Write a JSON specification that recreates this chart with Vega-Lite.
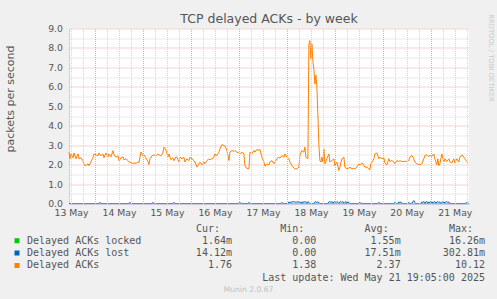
{
"$schema": "https://vega.github.io/schema/vega-lite/v6.json",
"background": "#f0f0f0",
"padding": {"left": 4, "top": 12.5, "right": 5, "bottom": 7},
"autosize": {"type": "pad"},
"bounds": "flush",
"spacing": 31,
"title": {"text": "Munin 2.0.67", "orient": "bottom", "anchor": "middle", "font": "DejaVu Sans", "fontSize": 7.6, "fontWeight": "normal", "color": "#c0c0c0", "offset": 3},
"config": {"view": {"stroke": null}},
"datasets": {
"acks": [
{"t":"2025-05-13T11:00","v":2.64},{"t":"2025-05-13T11:30","v":2.30},{"t":"2025-05-13T12:00","v":2.55},{"t":"2025-05-13T13:00","v":2.35},{"t":"2025-05-13T13:30","v":2.6},{"t":"2025-05-13T14:30","v":2.3},{"t":"2025-05-13T15:30","v":2.55},{"t":"2025-05-13T16:00","v":2.3},{"t":"2025-05-13T17:00","v":2.35},{"t":"2025-05-13T18:00","v":2.2},{"t":"2025-05-13T18:30","v":2.0},{"t":"2025-05-13T19:30","v":1.95},{"t":"2025-05-13T20:30","v":2.05},{"t":"2025-05-13T21:00","v":1.95},{"t":"2025-05-13T22:00","v":2.15},{"t":"2025-05-13T23:00","v":2.35},{"t":"2025-05-13T23:30","v":2.55},
{"t":"2025-05-14T00:30","v":2.5},{"t":"2025-05-14T01:30","v":2.45},{"t":"2025-05-14T02:00","v":2.6},{"t":"2025-05-14T03:00","v":2.45},{"t":"2025-05-14T04:00","v":2.55},{"t":"2025-05-14T04:30","v":2.35},{"t":"2025-05-14T05:30","v":2.6},{"t":"2025-05-14T06:30","v":2.4},{"t":"2025-05-14T07:00","v":2.55},{"t":"2025-05-14T08:00","v":2.4},{"t":"2025-05-14T09:00","v":2.72},{"t":"2025-05-14T09:30","v":2.5},{"t":"2025-05-14T10:30","v":2.38},{"t":"2025-05-14T11:30","v":2.45},{"t":"2025-05-14T12:00","v":2.2},{"t":"2025-05-14T13:00","v":2.35},{"t":"2025-05-14T14:00","v":2.4},{"t":"2025-05-14T14:30","v":2.25},{"t":"2025-05-14T15:30","v":2.3},{"t":"2025-05-14T16:30","v":2.2},{"t":"2025-05-14T17:00","v":2.15},{"t":"2025-05-14T18:00","v":2.1},{"t":"2025-05-14T19:00","v":2.05},{"t":"2025-05-14T19:30","v":2.1},{"t":"2025-05-14T20:30","v":2.05},{"t":"2025-05-14T21:30","v":2.15},{"t":"2025-05-14T22:00","v":2.1},{"t":"2025-05-14T23:00","v":2.65},
{"t":"2025-05-15T00:00","v":2.45},{"t":"2025-05-15T00:30","v":2.5},{"t":"2025-05-15T01:30","v":2.35},{"t":"2025-05-15T02:30","v":2.15},{"t":"2025-05-15T03:00","v":2.0},{"t":"2025-05-15T03:30","v":2.3},{"t":"2025-05-15T04:30","v":2.45},{"t":"2025-05-15T05:30","v":2.5},{"t":"2025-05-15T06:30","v":2.45},{"t":"2025-05-15T07:30","v":2.55},{"t":"2025-05-15T08:00","v":2.5},{"t":"2025-05-15T09:00","v":2.45},{"t":"2025-05-15T10:00","v":2.6},{"t":"2025-05-15T10:30","v":2.9},{"t":"2025-05-15T11:30","v":2.75},{"t":"2025-05-15T12:30","v":2.4},{"t":"2025-05-15T13:00","v":2.55},{"t":"2025-05-15T14:00","v":2.25},{"t":"2025-05-15T15:00","v":2.35},{"t":"2025-05-15T15:30","v":2.2},{"t":"2025-05-15T16:30","v":2.4},{"t":"2025-05-15T17:00","v":2.38},{"t":"2025-05-15T18:00","v":2.13},{"t":"2025-05-15T18:30","v":2.38},{"t":"2025-05-15T19:30","v":2.30},{"t":"2025-05-15T20:30","v":2.38},{"t":"2025-05-15T21:00","v":2.13},{"t":"2025-05-15T22:00","v":2.30},{"t":"2025-05-15T23:00","v":2.21},{"t":"2025-05-15T23:30","v":2.38},
{"t":"2025-05-16T00:30","v":2.30},{"t":"2025-05-16T01:30","v":2.21},{"t":"2025-05-16T02:00","v":2.13},{"t":"2025-05-16T03:00","v":1.87},{"t":"2025-05-16T04:00","v":2.04},{"t":"2025-05-16T04:30","v":2.13},{"t":"2025-05-16T05:30","v":1.99},{"t":"2025-05-16T06:30","v":2.13},{"t":"2025-05-16T07:00","v":2.04},{"t":"2025-05-16T08:00","v":2.21},{"t":"2025-05-16T09:00","v":2.30},{"t":"2025-05-16T09:30","v":2.25},{"t":"2025-05-16T10:30","v":2.30},{"t":"2025-05-16T11:30","v":2.38},{"t":"2025-05-16T12:00","v":2.55},{"t":"2025-05-16T13:00","v":2.47},{"t":"2025-05-16T14:00","v":2.64},{"t":"2025-05-16T14:30","v":2.81},{"t":"2025-05-16T15:30","v":3.03},{"t":"2025-05-16T16:30","v":2.98},{"t":"2025-05-16T17:00","v":2.95},{"t":"2025-05-16T18:00","v":2.73},{"t":"2025-05-16T19:00","v":2.21},{"t":"2025-05-16T19:30","v":2.64},{"t":"2025-05-16T20:30","v":2.73},{"t":"2025-05-16T21:30","v":2.67},{"t":"2025-05-16T22:00","v":2.73},{"t":"2025-05-16T23:00","v":2.64},
{"t":"2025-05-17T00:00","v":2.60},{"t":"2025-05-17T00:30","v":2.55},{"t":"2025-05-17T01:30","v":2.64},{"t":"2025-05-17T02:30","v":2.55},{"t":"2025-05-17T03:00","v":1.95},{"t":"2025-05-17T04:00","v":1.80},{"t":"2025-05-17T05:00","v":1.78},{"t":"2025-05-17T05:30","v":2.64},{"t":"2025-05-17T06:30","v":2.55},{"t":"2025-05-17T07:30","v":2.73},{"t":"2025-05-17T08:00","v":2.64},{"t":"2025-05-17T09:00","v":2.78},{"t":"2025-05-17T10:00","v":2.73},{"t":"2025-05-17T10:30","v":2.78},{"t":"2025-05-17T11:30","v":2.38},{"t":"2025-05-17T12:30","v":2.13},{"t":"2025-05-17T13:00","v":1.92},{"t":"2025-05-17T14:00","v":2.04},{"t":"2025-05-17T15:00","v":1.99},{"t":"2025-05-17T15:30","v":2.13},{"t":"2025-05-17T16:30","v":2.21},{"t":"2025-05-17T17:30","v":2.04},{"t":"2025-05-17T18:00","v":2.13},{"t":"2025-05-17T19:00","v":2.30},{"t":"2025-05-17T20:00","v":2.38},{"t":"2025-05-17T20:30","v":2.33},{"t":"2025-05-17T21:30","v":2.47},{"t":"2025-05-17T22:30","v":2.38},{"t":"2025-05-17T23:00","v":2.55},
{"t":"2025-05-18T00:00","v":2.38},{"t":"2025-05-18T01:00","v":2.30},{"t":"2025-05-18T01:30","v":2.13},{"t":"2025-05-18T02:30","v":1.95},{"t":"2025-05-18T03:30","v":1.82},{"t":"2025-05-18T04:00","v":1.78},{"t":"2025-05-18T05:00","v":1.78},{"t":"2025-05-18T06:00","v":1.87},{"t":"2025-05-18T06:30","v":2.47},{"t":"2025-05-18T07:30","v":2.73},{"t":"2025-05-18T08:30","v":2.64},{"t":"2025-05-18T09:00","v":2.90},{"t":"2025-05-18T09:30","v":2.38},{"t":"2025-05-18T10:30","v":2.30},{"t":"2025-05-18T11:00","v":8.2},{"t":"2025-05-18T11:30","v":8.38},{"t":"2025-05-18T12:00","v":7.45},{"t":"2025-05-18T12:30","v":8.2},{"t":"2025-05-18T13:00","v":7.3},{"t":"2025-05-18T13:30","v":6.9},{"t":"2025-05-18T14:00","v":6.15},{"t":"2025-05-18T14:30","v":6.6},{"t":"2025-05-18T15:00","v":6.0},{"t":"2025-05-18T15:30","v":4.5},{"t":"2025-05-18T16:00","v":3.0},{"t":"2025-05-18T16:30","v":2.21},{"t":"2025-05-18T17:00","v":2.13},{"t":"2025-05-18T17:30","v":2.38},{"t":"2025-05-18T18:00","v":2.13},{"t":"2025-05-18T18:30","v":2.81},{"t":"2025-05-18T19:00","v":2.04},{"t":"2025-05-18T20:00","v":2.30},{"t":"2025-05-18T21:00","v":2.55},{"t":"2025-05-18T21:30","v":2.13},{"t":"2025-05-18T22:30","v":2.21},{"t":"2025-05-18T23:30","v":2.30},
{"t":"2025-05-19T00:00","v":1.95},{"t":"2025-05-19T01:00","v":2.13},{"t":"2025-05-19T02:00","v":1.70},{"t":"2025-05-19T02:30","v":1.87},{"t":"2025-05-19T03:30","v":2.30},{"t":"2025-05-19T04:30","v":2.38},{"t":"2025-05-19T05:00","v":1.87},{"t":"2025-05-19T06:00","v":1.78},{"t":"2025-05-19T07:00","v":1.82},{"t":"2025-05-19T07:30","v":1.87},{"t":"2025-05-19T08:30","v":1.78},{"t":"2025-05-19T09:30","v":1.82},{"t":"2025-05-19T10:00","v":1.78},{"t":"2025-05-19T11:00","v":1.87},{"t":"2025-05-19T12:00","v":2.04},{"t":"2025-05-19T12:30","v":1.99},{"t":"2025-05-19T13:30","v":2.09},{"t":"2025-05-19T14:30","v":1.95},{"t":"2025-05-19T15:00","v":1.87},{"t":"2025-05-19T16:00","v":1.87},{"t":"2025-05-19T17:00","v":1.78},{"t":"2025-05-19T17:30","v":1.73},{"t":"2025-05-19T18:00","v":2.04},{"t":"2025-05-19T19:00","v":2.21},{"t":"2025-05-19T19:30","v":2.30},{"t":"2025-05-19T20:00","v":2.55},{"t":"2025-05-19T21:00","v":2.60},{"t":"2025-05-19T22:00","v":2.30},{"t":"2025-05-19T22:30","v":2.38},{"t":"2025-05-19T23:30","v":2.30},
{"t":"2025-05-20T00:30","v":2.35},{"t":"2025-05-20T01:00","v":2.09},{"t":"2025-05-20T02:00","v":1.99},{"t":"2025-05-20T03:00","v":2.30},{"t":"2025-05-20T03:30","v":2.16},{"t":"2025-05-20T04:30","v":2.21},{"t":"2025-05-20T05:30","v":2.13},{"t":"2025-05-20T06:00","v":2.04},{"t":"2025-05-20T07:00","v":2.21},{"t":"2025-05-20T08:00","v":2.16},{"t":"2025-05-20T08:30","v":2.21},{"t":"2025-05-20T09:30","v":2.16},{"t":"2025-05-20T10:30","v":2.16},{"t":"2025-05-20T11:00","v":2.18},{"t":"2025-05-20T12:00","v":2.16},{"t":"2025-05-20T13:00","v":2.21},{"t":"2025-05-20T13:30","v":2.38},{"t":"2025-05-20T14:30","v":2.47},{"t":"2025-05-20T15:30","v":2.30},{"t":"2025-05-20T16:00","v":2.13},{"t":"2025-05-20T17:00","v":2.04},{"t":"2025-05-20T18:00","v":2.00},{"t":"2025-05-20T18:30","v":1.99},{"t":"2025-05-20T19:30","v":2.04},{"t":"2025-05-20T20:30","v":2.30},{"t":"2025-05-20T21:00","v":2.47},{"t":"2025-05-20T22:00","v":2.50},{"t":"2025-05-20T23:00","v":2.42},{"t":"2025-05-20T23:30","v":2.47},
{"t":"2025-05-21T00:30","v":2.43},{"t":"2025-05-21T01:30","v":2.55},{"t":"2025-05-21T02:00","v":2.30},{"t":"2025-05-21T03:00","v":1.99},{"t":"2025-05-21T03:30","v":2.30},{"t":"2025-05-21T04:00","v":1.95},{"t":"2025-05-21T04:30","v":2.04},{"t":"2025-05-21T05:30","v":2.55},{"t":"2025-05-21T06:30","v":2.13},{"t":"2025-05-21T07:00","v":2.30},{"t":"2025-05-21T08:00","v":2.16},{"t":"2025-05-21T09:00","v":2.30},{"t":"2025-05-21T09:30","v":2.13},{"t":"2025-05-21T10:30","v":2.09},{"t":"2025-05-21T11:30","v":2.30},{"t":"2025-05-21T12:00","v":2.09},{"t":"2025-05-21T13:00","v":2.30},{"t":"2025-05-21T14:00","v":2.13},{"t":"2025-05-21T14:30","v":2.38},{"t":"2025-05-21T15:30","v":2.50},{"t":"2025-05-21T16:30","v":2.38},{"t":"2025-05-21T17:00","v":2.30},{"t":"2025-05-21T18:00","v":2.16},{"t":"2025-05-21T18:30","v":2.10}
],
"lost": [
{"t":"2025-05-13T11:00","v":0},{"t":"2025-05-14T02:00","v":0},{"t":"2025-05-14T02:30","v":0.06},{"t":"2025-05-14T03:00","v":0},{"t":"2025-05-14T17:00","v":0},{"t":"2025-05-14T17:30","v":0.06},{"t":"2025-05-14T18:00","v":0},{"t":"2025-05-15T04:30","v":0},{"t":"2025-05-15T05:00","v":0.06},{"t":"2025-05-15T05:30","v":0},{"t":"2025-05-15T15:00","v":0},{"t":"2025-05-15T15:30","v":0.06},{"t":"2025-05-15T16:00","v":0},{"t":"2025-05-17T00:00","v":0},{"t":"2025-05-17T00:30","v":0.06},{"t":"2025-05-17T01:00","v":0},{"t":"2025-05-17T04:30","v":0},{"t":"2025-05-17T05:00","v":0.06},{"t":"2025-05-17T05:30","v":0},{"t":"2025-05-17T21:00","v":0},{"t":"2025-05-17T21:30","v":0.06},{"t":"2025-05-17T22:00","v":0},
{"t":"2025-05-18T00:30","v":0},{"t":"2025-05-18T01:00","v":0.08},{"t":"2025-05-18T01:30","v":0.03},{"t":"2025-05-18T02:00","v":0.1},{"t":"2025-05-18T02:30","v":0.05},{"t":"2025-05-18T03:00","v":0.1},{"t":"2025-05-18T03:30","v":0.08},{"t":"2025-05-18T04:00","v":0.1},{"t":"2025-05-18T04:30","v":0.04},{"t":"2025-05-18T05:00","v":0.1},{"t":"2025-05-18T05:30","v":0.06},{"t":"2025-05-18T06:00","v":0.1},{"t":"2025-05-18T06:30","v":0.03},{"t":"2025-05-18T07:00","v":0.08},{"t":"2025-05-18T07:30","v":0},{"t":"2025-05-18T08:00","v":0.1},{"t":"2025-05-18T08:30","v":0.05},{"t":"2025-05-18T09:00","v":0.1},{"t":"2025-05-18T09:30","v":0.08},{"t":"2025-05-18T10:00","v":0},{"t":"2025-05-18T10:30","v":0.1},{"t":"2025-05-18T11:00","v":0.06},{"t":"2025-05-18T11:30","v":0},
{"t":"2025-05-18T13:30","v":0},{"t":"2025-05-18T14:00","v":0.08},{"t":"2025-05-18T14:30","v":0.1},{"t":"2025-05-18T15:00","v":0.04},{"t":"2025-05-18T15:30","v":0.08},{"t":"2025-05-18T16:00","v":0.06},{"t":"2025-05-18T16:30","v":0},
{"t":"2025-05-18T20:30","v":0},{"t":"2025-05-18T21:00","v":0.08},{"t":"2025-05-18T21:30","v":0.1},{"t":"2025-05-18T22:00","v":0.05},{"t":"2025-05-18T22:30","v":0.1},{"t":"2025-05-18T23:00","v":0},{"t":"2025-05-18T23:30","v":0.08},{"t":"2025-05-19T00:00","v":0.1},{"t":"2025-05-19T00:30","v":0.04},{"t":"2025-05-19T01:00","v":0.1},{"t":"2025-05-19T01:30","v":0.06},{"t":"2025-05-19T02:00","v":0},{"t":"2025-05-19T02:30","v":0.08},{"t":"2025-05-19T03:00","v":0.1},{"t":"2025-05-19T03:30","v":0.05},{"t":"2025-05-19T04:00","v":0.1},{"t":"2025-05-19T04:30","v":0},{"t":"2025-05-19T05:00","v":0.06},{"t":"2025-05-19T05:30","v":0.1},{"t":"2025-05-19T06:00","v":0},{"t":"2025-05-19T06:30","v":0.08},{"t":"2025-05-19T07:00","v":0.06},{"t":"2025-05-19T07:30","v":0},
{"t":"2025-05-19T12:00","v":0},{"t":"2025-05-19T12:30","v":0.06},{"t":"2025-05-19T13:00","v":0},{"t":"2025-05-19T21:30","v":0},{"t":"2025-05-19T22:00","v":0.06},{"t":"2025-05-19T22:30","v":0},
{"t":"2025-05-20T05:30","v":0},{"t":"2025-05-20T06:00","v":0.06},{"t":"2025-05-20T06:30","v":0},{"t":"2025-05-20T07:30","v":0},{"t":"2025-05-20T08:00","v":0.08},{"t":"2025-05-20T08:30","v":0.05},{"t":"2025-05-20T09:00","v":0.08},{"t":"2025-05-20T09:30","v":0},
{"t":"2025-05-20T12:30","v":0},{"t":"2025-05-20T13:00","v":0.06},{"t":"2025-05-20T13:30","v":0},{"t":"2025-05-20T14:30","v":0},{"t":"2025-05-20T15:00","v":0.08},{"t":"2025-05-20T15:30","v":0.15},{"t":"2025-05-20T16:00","v":0.05},{"t":"2025-05-20T16:30","v":0},
{"t":"2025-05-20T19:00","v":0},{"t":"2025-05-20T19:30","v":0.08},{"t":"2025-05-20T20:00","v":0.05},{"t":"2025-05-20T20:30","v":0.1},{"t":"2025-05-20T21:00","v":0},{"t":"2025-05-20T21:30","v":0.08},{"t":"2025-05-20T22:00","v":0.1},{"t":"2025-05-20T22:30","v":0},{"t":"2025-05-20T23:00","v":0.08},{"t":"2025-05-20T23:30","v":0.05},{"t":"2025-05-21T00:00","v":0.1},{"t":"2025-05-21T00:30","v":0},{"t":"2025-05-21T01:00","v":0.08},{"t":"2025-05-21T01:30","v":0.06},{"t":"2025-05-21T02:00","v":0.1},{"t":"2025-05-21T02:30","v":0},{"t":"2025-05-21T03:00","v":0.08},{"t":"2025-05-21T03:30","v":0.1},{"t":"2025-05-21T04:00","v":0.05},{"t":"2025-05-21T04:30","v":0.08},{"t":"2025-05-21T05:00","v":0},{"t":"2025-05-21T05:30","v":0.06},{"t":"2025-05-21T06:00","v":0.1},{"t":"2025-05-21T06:30","v":0},{"t":"2025-05-21T07:00","v":0.08},{"t":"2025-05-21T07:30","v":0.06},{"t":"2025-05-21T08:00","v":0.1},{"t":"2025-05-21T08:30","v":0.05},{"t":"2025-05-21T09:00","v":0.08},{"t":"2025-05-21T09:30","v":0},
{"t":"2025-05-21T17:30","v":0},{"t":"2025-05-21T18:00","v":0.06},{"t":"2025-05-21T18:30","v":0}
],
"locked": [
{"t":"2025-05-13T11:05","v":0},{"t":"2025-05-16T12:00","v":0.001},{"t":"2025-05-18T12:00","v":0.002},{"t":"2025-05-21T19:05","v":0.0016}
],
"stats": [
{"series":"Delayed ACKs locked","stat":"Cur:","val":"1.64m"},{"series":"Delayed ACKs locked","stat":"Min:","val":"0.00\u00a0"},{"series":"Delayed ACKs locked","stat":"Avg:","val":"1.55m"},{"series":"Delayed ACKs locked","stat":"Max:","val":"16.26m"},
{"series":"Delayed ACKs lost","stat":"Cur:","val":"14.12m"},{"series":"Delayed ACKs lost","stat":"Min:","val":"0.00\u00a0"},{"series":"Delayed ACKs lost","stat":"Avg:","val":"17.51m"},{"series":"Delayed ACKs lost","stat":"Max:","val":"302.81m"},
{"series":"Delayed ACKs","stat":"Cur:","val":"1.76\u00a0"},{"series":"Delayed ACKs","stat":"Min:","val":"1.38\u00a0"},{"series":"Delayed ACKs","stat":"Avg:","val":"2.37\u00a0"},{"series":"Delayed ACKs","stat":"Max:","val":"10.12\u00a0"}
]
},
"vconcat": [
{
"width": 400, "height": 175,
"view": {"fill": "#ffffff", "stroke": null},
"title": {"text": "TCP delayed ACKs - by week", "font": "DejaVu Sans", "fontSize": 12.5, "fontWeight": "normal", "color": "#555555", "offset": -12, "anchor": "middle"},
"encoding": {
"x": {"field": "t", "type": "temporal", "scale": {"nice": false},
"axis": {"title": null, "tickCount": 34, "zindex": 1,
"labelExpr": "timeFormat(datum.value, '%H') == '12' ? timeFormat(datum.value, '%d %b') : ''",
"labelFont": "DejaVu Sans", "labelFontSize": 9.3, "labelColor": "#555555", "labelPadding": 4.5,
"labelOverlap": false, "labelFlush": false, "labelBound": false,
"ticks": false, "tickSize": 0, "domainColor": "#a9b6e6", "domainWidth": 1,
"grid": true, "gridColor": {"condition": {"test": "timeFormat(datum.value, '%H') == '00'", "value": "#eba7a7"}, "value": "#d5d5d5"}, "gridDash": [1, 1], "gridWidth": 1}}
},
"layer": [
{
"encoding": {"y": {"field": "v", "type": "quantitative", "scale": {"domain": [0, 9], "nice": false, "zero": true},
"axis": {"title": "packets per second", "values": [0, 0.5, 1, 1.5, 2, 2.5, 3, 3.5, 4, 4.5, 5, 5.5, 6, 6.5, 7, 7.5, 8, 8.5, 9],
"labelExpr": "datum.value % 1 == 0 ? format(datum.value, '.1f') : ''",
"labelFont": "DejaVu Sans", "labelFontSize": 9.3, "labelColor": "#555555", "labelPadding": 6.5,
"ticks": false, "tickSize": 0, "domainColor": "#c8d0f0",
"grid": true, "gridColor": {"condition": {"test": "datum.value % 1 == 0", "value": "#eba7a7"}, "value": "#d5d5d5"}, "gridDash": [1, 1], "gridWidth": 1,
"titleFont": "DejaVu Sans", "titleFontSize": 11, "titleFontWeight": "normal", "titleColor": "#555555",
"titleX": -59, "titleY": 70, "titleBaseline": "middle", "titleAlign": "center"}}},
"layer": [
{"data": {"name": "locked"}, "mark": {"type": "line", "strokeWidth": 0.5, "interpolate": "linear"},
"encoding": {"color": {"datum": "Delayed ACKs locked", "type": "nominal",
"scale": {"domain": ["Delayed ACKs locked", "Delayed ACKs lost", "Delayed ACKs"], "range": ["#00cc00", "#0066b3", "#ff8000"]},
"legend": {"orient": "none", "legendX": -57, "legendY": 207.3, "title": null, "direction": "vertical", "padding": 0,
"symbolType": "square", "symbolSize": 1, "symbolStrokeWidth": 4, "symbolOpacity": 1, "clipHeight": 10,
"labelFont": "DejaVu Sans Mono", "labelFontSize": 10, "labelColor": "#555555", "labelOffset": 5, "labelLimit": 0, "rowPadding": 2.3}}}},
{"data": {"name": "lost"}, "mark": {"type": "line", "strokeWidth": 1, "interpolate": "linear"},
"encoding": {"color": {"datum": "Delayed ACKs lost", "type": "nominal"}}},
{"data": {"name": "acks"}, "mark": {"type": "line", "strokeWidth": 1, "interpolate": "linear"},
"encoding": {"color": {"datum": "Delayed ACKs", "type": "nominal"}}}
]
},
{
"data": {"name": "acks"},
"mark": {"type": "line", "opacity": 0},
"encoding": {"y": {"field": "v", "type": "quantitative",
"axis": {"orient": "right", "title": "RRDTOOL / TOBI OETIKER", "labels": false, "ticks": false, "domain": false, "grid": false,
"titleAngle": 90, "titleFont": "DejaVu Sans", "titleFontSize": 6.8, "titleFontWeight": "normal", "titleColor": "#c8c8c8",
"titleX": 21, "titleY": 29, "titleBaseline": "middle", "titleAlign": "center"}}}
}
],
"resolve": {"axis": {"y": "independent"}}
},
{
"width": 416, "height": 37,
"view": {"stroke": null},
"data": {"name": "stats"},
"title": {"text": "Last update: Wed May 21 19:05:00 2025", "orient": "bottom", "anchor": "end", "frame": "group", "font": "DejaVu Sans Mono", "fontSize": 10, "fontWeight": "normal", "color": "#555555", "offset": 1},
"mark": {"type": "text", "font": "DejaVu Sans Mono", "fontSize": 10, "align": "right", "baseline": "middle", "color": "#555555"},
"encoding": {
"x": {"field": "stat", "type": "nominal", "scale": {"type": "point", "domain": ["Cur:", "Min:", "Avg:", "Max:"], "padding": 0.9664, "align": 1},
"axis": {"orient": "top", "title": null, "domain": false, "ticks": false, "tickSize": 0, "grid": false, "labelAngle": 0, "labelAlign": "right",
"labelFont": "DejaVu Sans Mono", "labelFontSize": 10, "labelColor": "#555555", "labelPadding": 1, "labelOffset": -12.5}},
"y": {"field": "series", "type": "nominal", "scale": {"type": "band", "domain": ["Delayed ACKs locked", "Delayed ACKs lost", "Delayed ACKs"], "paddingInner": 0, "paddingOuter": 0}, "axis": null},
"text": {"field": "val"}
}
}
]
}
